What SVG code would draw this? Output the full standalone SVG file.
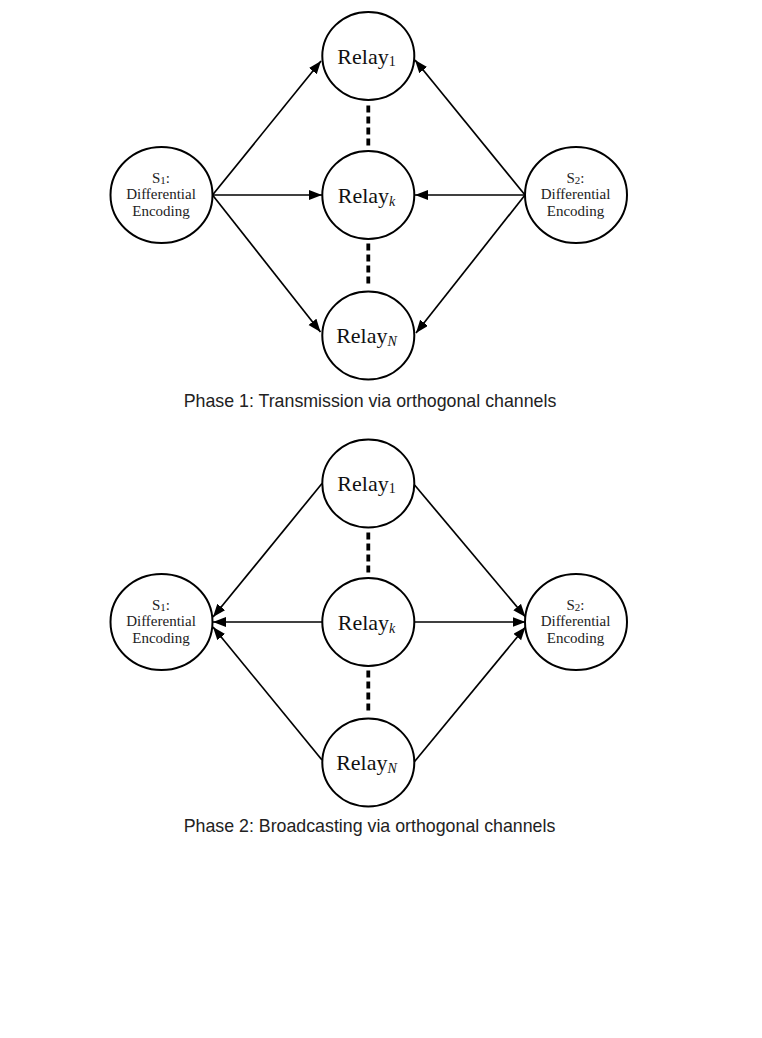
<svg xmlns="http://www.w3.org/2000/svg" width="762" height="1038" viewBox="0 0 762 1038">
<style>
.node{fill:#fff;stroke:#000;stroke-width:2}
.edge{stroke:#000;stroke-width:1.7;fill:none}
.dots{stroke:#000;stroke-width:3.8;stroke-dasharray:7 4;fill:none}
.rl{font-family:"Liberation Serif","Times New Roman",serif;font-size:22px;fill:#111;text-anchor:middle}
.sl{font-family:"Liberation Serif","Times New Roman",serif;font-size:15px;fill:#222;text-anchor:middle}
.sub{font-size:14px}
.cap{font-family:"Liberation Sans",Arial,sans-serif;font-size:17.8px;fill:#222;text-anchor:middle}
</style>
<defs>
<marker id="ah" markerUnits="userSpaceOnUse" markerWidth="14" markerHeight="11" refX="13" refY="5" orient="auto">
<path d="M0,0 L13,5 L0,10 z" fill="#000"/>
</marker>
</defs>
<rect width="762" height="1038" fill="#fff"/>

<g id="connectors">
<!-- Phase 1 -->
<line class="edge" x1="212.5" y1="195" x2="321" y2="61" marker-end="url(#ah)"/>
<line class="edge" x1="212.5" y1="195" x2="322" y2="195" marker-end="url(#ah)"/>
<line class="edge" x1="212.5" y1="195" x2="320.5" y2="332" marker-end="url(#ah)"/>
<line class="edge" x1="525" y1="195" x2="415" y2="60" marker-end="url(#ah)"/>
<line class="edge" x1="525" y1="195" x2="415" y2="195" marker-end="url(#ah)"/>
<line class="edge" x1="525" y1="195" x2="416" y2="333" marker-end="url(#ah)"/>
<line class="dots" x1="368.3" y1="105.5" x2="368.3" y2="146"/>
<line class="dots" x1="368.3" y1="243.5" x2="368.3" y2="284.5"/>
<!-- Phase 2 -->
<line class="edge" x1="322" y1="483.5" x2="213" y2="617" marker-end="url(#ah)"/>
<line class="edge" x1="322" y1="622" x2="213" y2="622" marker-end="url(#ah)"/>
<line class="edge" x1="322" y1="760" x2="213" y2="627" marker-end="url(#ah)"/>
<line class="edge" x1="414.6" y1="485" x2="525.5" y2="617" marker-end="url(#ah)"/>
<line class="edge" x1="414.6" y1="622" x2="525.5" y2="622" marker-end="url(#ah)"/>
<line class="edge" x1="414.6" y1="761.5" x2="525.5" y2="627" marker-end="url(#ah)"/>
<line class="dots" x1="368.3" y1="532.5" x2="368.3" y2="573"/>
<line class="dots" x1="368.3" y1="670.5" x2="368.3" y2="711.5"/>
</g>

<!-- Phase 1 nodes -->
<g id="p1-relay1">
<ellipse class="node" cx="368.3" cy="56" rx="46" ry="44"/>
<text class="rl" x="366.5" y="63.5">Relay<tspan class="sub" dy="2">1</tspan></text>
</g>
<g id="p1-relayk">
<ellipse class="node" cx="368.3" cy="195" rx="46" ry="44"/>
<text class="rl" x="366.5" y="202.5">Relay<tspan class="sub" dy="3" font-style="italic">k</tspan></text>
</g>
<g id="p1-relayN">
<ellipse class="node" cx="368.3" cy="335.5" rx="46" ry="44"/>
<text class="rl" x="366.5" y="343">Relay<tspan class="sub" dy="3" font-style="italic">N</tspan></text>
</g>
<g id="p1-s1">
<ellipse class="node" cx="161.5" cy="195" rx="51" ry="48"/>
<text class="sl" x="161" y="182.5">S<tspan font-size="11" dy="1">1</tspan><tspan dy="-1">:</tspan></text>
<text class="sl" x="161" y="199">Differential</text>
<text class="sl" x="161" y="215.5">Encoding</text>
</g>
<g id="p1-s2">
<ellipse class="node" cx="576" cy="195" rx="51" ry="48"/>
<text class="sl" x="575.5" y="182.5">S<tspan font-size="11" dy="1">2</tspan><tspan dy="-1">:</tspan></text>
<text class="sl" x="575.5" y="199">Differential</text>
<text class="sl" x="575.5" y="215.5">Encoding</text>
</g>
<text id="caption1" class="cap" x="370" y="406.7">Phase 1: Transmission via orthogonal channels</text>

<!-- Phase 2 nodes -->
<g id="p2-relay1">
<ellipse class="node" cx="368.3" cy="483.5" rx="46" ry="44"/>
<text class="rl" x="366.5" y="491">Relay<tspan class="sub" dy="2">1</tspan></text>
</g>
<g id="p2-relayk">
<ellipse class="node" cx="368.3" cy="622" rx="46" ry="44"/>
<text class="rl" x="366.5" y="629.5">Relay<tspan class="sub" dy="3" font-style="italic">k</tspan></text>
</g>
<g id="p2-relayN">
<ellipse class="node" cx="368.3" cy="762.5" rx="46" ry="44"/>
<text class="rl" x="366.5" y="770">Relay<tspan class="sub" dy="3" font-style="italic">N</tspan></text>
</g>
<g id="p2-s1">
<ellipse class="node" cx="161.5" cy="622" rx="51" ry="48"/>
<text class="sl" x="161" y="609.5">S<tspan font-size="11" dy="1">1</tspan><tspan dy="-1">:</tspan></text>
<text class="sl" x="161" y="626">Differential</text>
<text class="sl" x="161" y="642.5">Encoding</text>
</g>
<g id="p2-s2">
<ellipse class="node" cx="576" cy="622" rx="51" ry="48"/>
<text class="sl" x="575.5" y="609.5">S<tspan font-size="11" dy="1">2</tspan><tspan dy="-1">:</tspan></text>
<text class="sl" x="575.5" y="626">Differential</text>
<text class="sl" x="575.5" y="642.5">Encoding</text>
</g>
<text id="caption2" class="cap" x="369.5" y="831.7">Phase 2: Broadcasting via orthogonal channels</text>
</svg>
